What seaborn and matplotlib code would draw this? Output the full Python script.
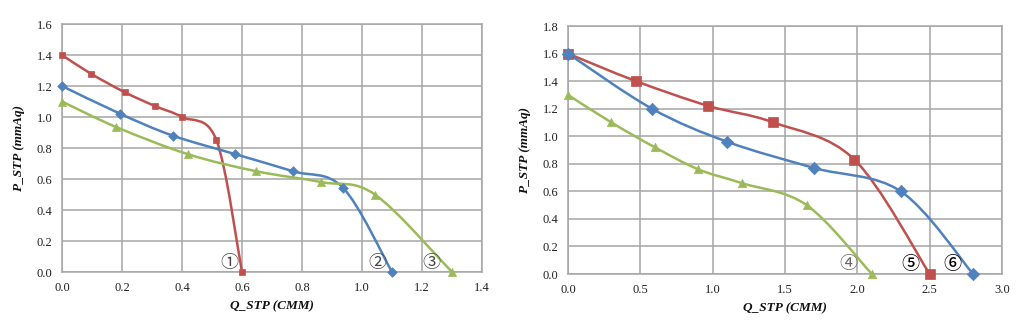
import numpy as np
import pandas as pd
import matplotlib
matplotlib.use("Agg")
import matplotlib.pyplot as plt
from matplotlib.path import Path
from matplotlib.patches import PathPatch
import seaborn as sns

# ---- fan curves, left panel ----
q_1 = [0.0, 0.096, 0.209, 0.311, 0.400, 0.515, 0.600]
p_1 = [1.40, 1.28, 1.16, 1.07, 1.00, 0.85, 0.00]
q_2 = [0.0, 0.195, 0.369, 0.578, 0.770, 0.936, 1.100]
p_2 = [1.20, 1.02, 0.88, 0.76, 0.65, 0.545, 0.00]
q_3 = [0.0, 0.181, 0.420, 0.648, 0.865, 1.043, 1.300]
p_3 = [1.10, 0.935, 0.76, 0.65, 0.58, 0.50, 0.00]

# ---- fan curves, right panel ----
q_4 = [0.0, 0.30, 0.60, 0.90, 1.20, 1.65, 2.10]
p_4 = [1.30, 1.10, 0.92, 0.76, 0.66, 0.50, 0.00]
q_5 = [0.0, 0.47, 0.97, 1.42, 1.98, 2.50]
p_5 = [1.60, 1.40, 1.22, 1.10, 0.83, 0.00]
q_6 = [0.0, 0.58, 1.10, 1.70, 2.30, 2.80]
p_6 = [1.60, 1.20, 0.96, 0.77, 0.60, 0.00]

labels_left = ["①", "②", "③"]
label_q_left = [0.557, 1.05, 1.23]
labels_right = ["④", "⑤", "⑥"]
label_q_right = [1.94, 2.364, 2.654]

x_label = "Q_STP (CMM)"
y_label = "P_STP (mmAq)"

RED = "#C0504D"
BLUE = "#4F81BD"
GREEN = "#9BBB59"
GRID = "#A6A6A6"

sns.set_theme(style="whitegrid")
plt.rcParams["font.family"] = ["Liberation Serif", "Noto Sans CJK JP", "DejaVu Sans"]


def smooth_path(x, y):
    """Cardinal-spline Bezier path through the given points."""
    pts = np.column_stack([x, y]).astype(float)
    n = len(pts)
    verts = [pts[0]]
    codes = [Path.MOVETO]
    for i in range(n - 1):
        p0 = pts[i - 1] if i > 0 else pts[i]
        p1 = pts[i]
        p2 = pts[i + 1]
        p3 = pts[i + 2] if i + 2 < n else pts[i + 1]
        verts += [p1 + (p2 - p0) / 6.0, p2 - (p3 - p1) / 6.0, p2]
        codes += [Path.CURVE4] * 3
    return Path(verts, codes)


def draw_series(ax, q, p, color, marker, msize):
    ax.add_patch(PathPatch(smooth_path(q, p), facecolor="none",
                           edgecolor=color, lw=1.8, zorder=3))
    df = pd.DataFrame({"Q": q, "P": p})
    sns.scatterplot(data=df, x="Q", y="P", ax=ax, marker=marker, s=msize,
                    color=color, edgecolor=color, linewidth=0.5, zorder=4,
                    clip_on=False)


def style_axes(ax, xmax, xstep, ymax, ystep):
    ax.set_xlim(0, xmax)
    ax.set_ylim(0, ymax)
    ax.set_xticks(np.round(np.arange(0, xmax + 1e-9, xstep), 2))
    ax.set_yticks(np.round(np.arange(0, ymax + 1e-9, ystep), 2))
    ax.xaxis.set_major_formatter(matplotlib.ticker.FormatStrFormatter("%.1f"))
    ax.yaxis.set_major_formatter(matplotlib.ticker.FormatStrFormatter("%.1f"))
    ax.grid(True, color=GRID, lw=1.1)
    ax.set_facecolor("white")
    for s in ax.spines.values():
        s.set_visible(True)
        s.set_color(GRID)
        s.set_linewidth(1.1)
    ax.tick_params(axis="both", direction="out", length=3, width=1,
                   color=GRID, labelsize=9, pad=4, labelcolor="#222222")
    ax.set_xlabel(x_label, fontsize=9.5, fontweight="bold", style="italic",
                  labelpad=5, color="#111111")
    ax.set_ylabel(y_label, fontsize=9.5, fontweight="bold", style="italic",
                  labelpad=8, color="#111111")


fig = plt.figure(figsize=(10.31, 3.28), dpi=100)
axL = fig.add_axes([0.0601, 0.1707, 0.4074, 0.7561])
axR = fig.add_axes([0.5509, 0.1646, 0.4210, 0.7561])

# left panel
draw_series(axL, q_1, p_1, RED, "s", 22)
draw_series(axL, q_2, p_2, BLUE, "D", 24)
draw_series(axL, q_3, p_3, GREEN, "^", 34)
style_axes(axL, 1.4, 0.2, 1.6, 0.2)
for t, xq in zip(labels_left, label_q_left):
    axL.text(xq, 0.058, t, ha="center", va="center", fontsize=13,
             color="#444444", zorder=5)

# right panel
draw_series(axR, q_4, p_4, GREEN, "^", 36)
draw_series(axR, q_5, p_5, RED, "s", 45)
draw_series(axR, q_6, p_6, BLUE, "D", 40)
style_axes(axR, 3.0, 0.5, 1.8, 0.2)
for t, xq, c, w in zip(labels_right, label_q_right,
                       ["#666666", "#000000", "#000000"],
                       ["normal", "medium", "medium"]):
    axR.text(xq, 0.07, t, ha="center", va="center", fontsize=13,
             color=c, fontweight=w, zorder=5)

fig.savefig("out.png", dpi=100, facecolor="white")
